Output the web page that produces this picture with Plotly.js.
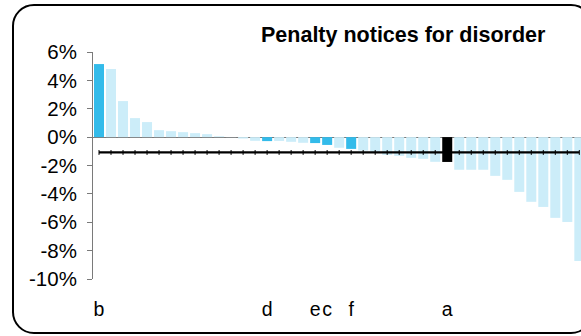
<!DOCTYPE html>
<html>
<head>
<meta charset="utf-8">
<script src="https://cdn.plot.ly/plotly-3.0.1.min.js"></script>
<style>
  html, body { margin: 0; padding: 0; width: 581px; height: 336px; overflow: hidden; background: #fff; }
  #frame { position: absolute; left: 12px; top: 4px; width: 581px; height: 330px; box-sizing: border-box;
           border: 2px solid #000; border-radius: 22px; }
  #chart { position: absolute; left: 0; top: 0; width: 581px; height: 336px; }
</style>
</head>
<body>
<div id="frame"></div>
<div id="chart"></div>
<script>
// Change values (%) sorted from highest to lowest
const values = [5.15, 4.8, 2.54, 1.34, 1.06, 0.49, 0.42, 0.35, 0.28, 0.21,
                0.06, 0.01, -0.1, -0.26, -0.28, -0.27, -0.33, -0.4, -0.42, -0.55,
                -0.75, -0.83, -0.95, -1.05, -1.25, -1.32, -1.46, -1.53, -1.74, -1.75,
                -2.3, -2.3, -2.3, -2.73, -3.01, -3.86, -4.56, -4.92, -5.69, -5.98,
                -8.73];
// Labels for the highlighted bars ('' = unlabelled)
const labels = ['b', '', '', '', '', '', '', '', '', '',
                '', '', '', '', 'd', '', '', '', 'e', 'c',
                '', 'f', '', '', '', '', '', '', '', 'a',
                '', '', '', '', '', '', '', '', '', '',
                ''];
const focusLabel = 'a';
const averageValue = -1.08;
const yTickVals = [6, 4, 2, 0, -2, -4, -6, -8, -10];
const yTickText = ['6%', '4%', '2%', '0%', '-2%', '-4%', '-6%', '-8%', '-10%'];
const titleText = 'Penalty notices for disorder';

const xs = values.map((v, i) => i);
const barColors = labels.map(l => l === focusLabel ? '#000000' : (l ? '#33BBEA' : '#CCEDF9'));
const tickVals = xs.filter(i => labels[i]);
const tickText = tickVals.map(i => labels[i]);
const avgLine = values.map(() => averageValue);

const font = 'Liberation Sans, Arial, sans-serif';

const data = [
  { type: 'bar', x: xs, y: values, marker: { color: barColors, line: { width: 0 } }, hoverinfo: 'skip' },
  { type: 'scatter', mode: 'lines+markers', x: xs, y: avgLine,
    line: { color: '#000', width: 2.3 },
    marker: { symbol: 'line-ns-open', size: 3.5, color: '#000', line: { width: 1, color: '#000' } },
    hoverinfo: 'skip' }
];

const layout = {
  width: 581, height: 336,
  margin: { l: 93, r: 0, t: 52, b: 57 },
  paper_bgcolor: 'rgba(0,0,0,0)', plot_bgcolor: 'rgba(0,0,0,0)',
  showlegend: false,
  bargap: 0.167,
  font: { family: font, color: '#000' },
  title: { text: '<b>' + titleText + '</b>', font: { family: font, size: 21.5, color: '#000' },
           xref: 'container', x: 261 / 581, xanchor: 'left', yref: 'container', y: 1 - 34 / 336, yanchor: 'middle' },
  xaxis: { range: [-0.5, 40.14], showgrid: false, zeroline: false, showline: false,
           tickmode: 'array', tickvals: tickVals, ticktext: tickText, tickangle: 0,
           ticks: 'outside', ticklen: 13, tickcolor: 'rgba(0,0,0,0)',
           tickfont: { family: font, size: 19.5, color: '#000' }, fixedrange: true },
  yaxis: { range: [-10, 6], showgrid: false, zeroline: true, zerolinecolor: '#7a7a7a', zerolinewidth: 1,
           showline: true, linecolor: '#7a7a7a', linewidth: 1,
           tickmode: 'array', tickvals: yTickVals, ticktext: yTickText,
           ticks: 'outside', ticklen: 5, tickcolor: '#7a7a7a', ticklabelstandoff: 6,
           tickfont: { family: font, size: 20.5, color: '#000' }, fixedrange: true }
};

Plotly.newPlot('chart', data, layout, { staticPlot: true, displayModeBar: false });
</script>
</body>
</html>
